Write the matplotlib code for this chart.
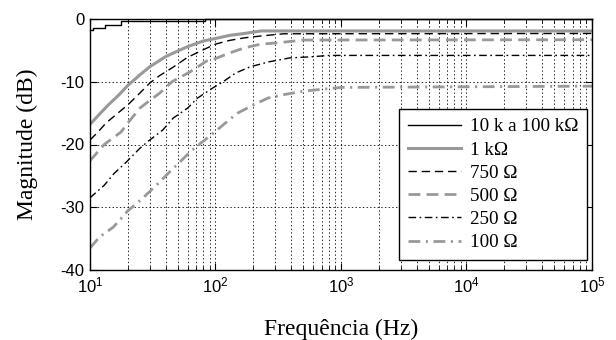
import numpy as np
import matplotlib
matplotlib.use("Agg")
import matplotlib.pyplot as plt

# valores (frequencia em Hz, magnitude em dB)
f_10k = [10, 10.6, 13.1, 17.7, 82, 1e5]
db_10k = [-1.8, -1.5, -1.0, -0.3, 0.0, 0.0]

f_1k = [10, 12, 14, 17, 20, 25, 30, 40, 50, 60, 80, 100, 130, 170, 230, 1e5]
db_1k = [-16.8, -15.1, -13.7, -12.1, -10.6, -8.9, -7.6, -6.0, -5.1, -4.4,
         -3.5, -3.1, -2.6, -2.3, -1.9, -1.9]

f_750 = [10, 11.6, 13.4, 16, 20, 25, 30, 36, 45, 60, 80, 100, 130, 170,
         230, 350, 1e5]
db_750 = [-19.3, -18.0, -16.6, -15.3, -13.7, -11.8, -10.2, -9.0, -7.8, -6.1,
          -4.9, -4.0, -3.4, -3.0, -2.7, -2.35, -2.3]

f_500 = [10, 13, 17.7, 20, 25, 29, 36, 45, 63, 85, 100, 130, 170, 230, 310,
         500, 1e5]
db_500 = [-22.6, -20.0, -18.0, -16.6, -14.2, -13.2, -11.8, -10.0, -8.4, -6.7,
          -6.3, -5.4, -4.6, -4.0, -3.8, -3.35, -3.3]

f_250 = [10, 13, 15.6, 19.5, 25, 29, 38, 46, 60, 72, 95, 115, 145, 190, 270,
         390, 600, 800, 1e5]
db_250 = [-28.5, -26.5, -24.6, -22.8, -20.6, -19.5, -17.7, -15.8, -14.2,
          -12.6, -11.0, -10.0, -8.6, -7.6, -6.8, -6.2, -6.0, -5.8, -5.8]

f_100 = [10, 12, 15.3, 17.7, 20, 26.5, 35, 42, 52, 65, 82, 100, 123, 150,
         200, 262, 340, 500, 1000, 1e5]
db_100 = [-36.5, -34.7, -33.2, -31.8, -30.6, -28.5, -26.2, -24.6, -22.8,
          -20.9, -19.3, -17.9, -16.4, -15.0, -13.7, -12.6, -12.1, -11.5,
          -10.9, -10.7]

labels = ["10 k a 100 k\u03a9", "1 k\u03a9", "750 \u03a9", "500 \u03a9",
          "250 \u03a9", "100 \u03a9"]
yticks = [0, -10, -20, -30, -40]

plt.rcParams['lines.scale_dashes'] = False
plt.rcParams['axes.unicode_minus'] = False
plt.rcParams['mathtext.fontset'] = 'custom'
plt.rcParams['mathtext.rm'] = 'Liberation Sans'
plt.rcParams['mathtext.it'] = 'Liberation Sans'
plt.rcParams['font.family'] = ['Liberation Sans', 'DejaVu Sans']

cinza = '#999999'

fig = plt.figure(figsize=(6.16, 3.4), dpi=100)
ax = fig.add_axes([0.146, 0.206, 0.815, 0.738])

ax.plot(f_10k, db_10k, color='black', lw=1.0, drawstyle='steps-post',
        label=labels[0], clip_on=False, zorder=5)
ax.plot(f_1k, db_1k, color=cinza, lw=2.2, label=labels[1])
ax.plot(f_750, db_750, color='black', lw=1.0, linestyle=(0, (6, 3.5)),
        label=labels[2])
ax.plot(f_500, db_500, color=cinza, lw=2.0, linestyle=(0, (8.5, 4.5)),
        label=labels[3])
ax.plot(f_250, db_250, color='black', lw=1.0,
        linestyle=(0, (5.5, 2.5, 1.2, 2.5)), label=labels[4])
ax.plot(f_100, db_100, color=cinza, lw=2.0,
        linestyle=(0, (8.5, 4, 1.5, 4)), label=labels[5])

ax.set_xscale('log')
ax.set_xlim(10, 1e5)
ax.set_ylim(-40, 0)
ax.set_yticks(yticks)
ax.set_yticklabels([str(v) for v in yticks])

ax.grid(True, which='major', color='black', linestyle=':', lw=0.6)
ax.grid(True, which='minor', axis='x', color='black', linestyle=':', lw=0.6)

ax.tick_params(which='both', direction='in', top=True, right=True,
               labelsize=12, pad=4)
ax.tick_params(which='major', length=5)
ax.tick_params(which='minor', length=3)
for s in ax.spines.values():
    s.set_linewidth(1.0)

ax.set_xlabel('Frequ\u00eancia (Hz)', fontfamily='Liberation Serif',
              fontsize=17, labelpad=17)
ax.set_ylabel('Magnitude (dB)', fontfamily='Liberation Serif',
              fontsize=17, labelpad=16)

leg = ax.legend(loc='lower right', bbox_to_anchor=(0.99, 0.04),
                borderaxespad=0, prop={'family': 'Liberation Serif',
                                       'size': 13.8},
                handlelength=2.8, handletextpad=0.45, labelspacing=0.3,
                borderpad=0.45, fancybox=False, framealpha=1)
leg.get_frame().set_edgecolor('black')
leg.get_frame().set_linewidth(1.0)

fig.savefig('out.png', dpi=100)
